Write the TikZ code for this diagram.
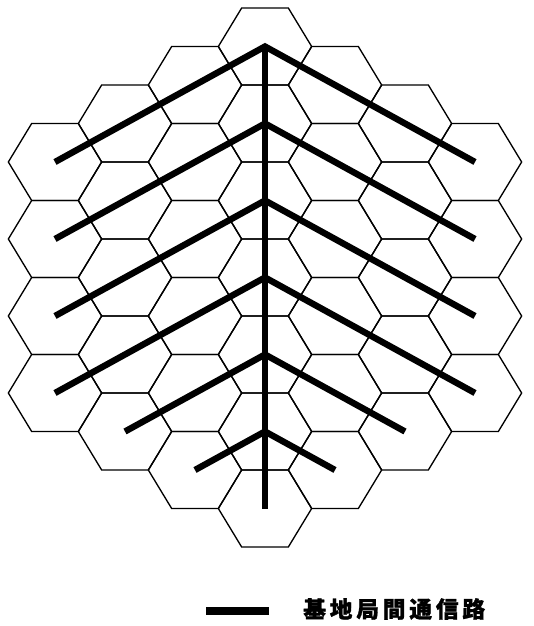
\documentclass[tikz,border=0pt]{standalone}
\usepackage{fontspec}
\newfontfamily\cjk[LetterSpace=17,FakeBold=1.2]{Noto Sans CJK JP}
\usepackage{tikz}
\usetikzlibrary{positioning}

\begin{document}
\begin{tikzpicture}[x=0.75pt,y=-0.75pt,
  cell/.style={draw,line width=1pt,line join=miter},
  link/.style={line width=4.8pt,line join=miter},
  keyline/.style={line width=6.4pt},
  keytext/.style={font=\cjk\bfseries\fontsize{17}{20}\selectfont,inner sep=0pt,anchor=west}]
\useasboundingbox (0,0) rectangle (533,626);
% 37 cells, column spacing 70, row spacing 77
\foreach \q in {-3,...,3}{
  \foreach \r in {-3,...,3}{
    \pgfmathtruncatemacro\t{\q+\r}
    \pgfmathtruncatemacro\a{\q+3}
    \pgfmathtruncatemacro\b{\r+3}
    \ifnum\t<-3 \else\ifnum\t>3 \else
      \coordinate (c\a\b) at ({265+70*\q},{277.5+77*(\r+\q/2)});
      \draw[cell] (c\a\b) ++(-46.67,0) -- ++(23.33,-38.5) -- ++(46.67,0)
        -- ++(23.33,38.5) -- ++(-23.33,38.5) -- ++(-46.67,0) -- cycle;
    \fi\fi
  }
}
% links between base stations
\draw[link] (c30) -- (c36);
\draw[link] (c03) -- (c30) -- (c60);
\draw[link] (c04) -- (c31) -- (c61);
\draw[link] (c05) -- (c32) -- (c62);
\draw[link] (c06) -- (c33) -- (c63);
\draw[link] (c16) -- (c34) -- (c54);
\draw[link] (c26) -- (c35) -- (c45);
% legend
\coordinate (ka) at (206,611);
\coordinate (kb) at (269,611);
\draw[keyline] (ka) -- (kb);
\node[keytext] (key) at (303,609) {基地局間通信路};
\end{tikzpicture}
\end{document}
